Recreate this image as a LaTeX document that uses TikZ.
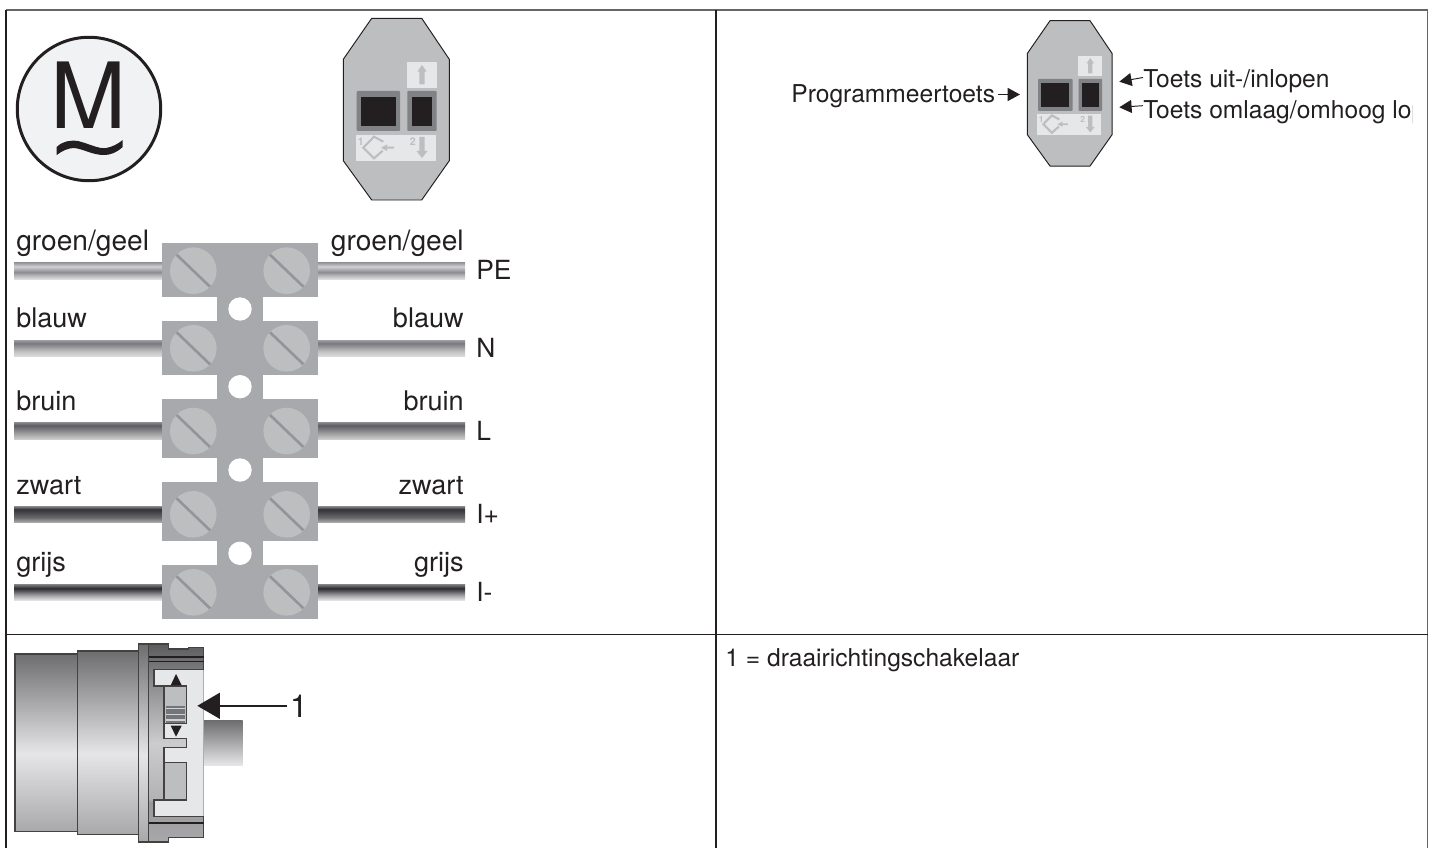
\documentclass[tikz,border=0pt]{standalone}
\usepackage{fontspec}
\setmainfont{TeX Gyre Heros}
\usetikzlibrary{arrows.meta}
\definecolor{ink}{HTML}{231F20}
\definecolor{boxgray}{HTML}{BCBEC0}
\definecolor{termgray}{HTML}{A7A9AC}
\definecolor{slotgray}{HTML}{939598}
\definecolor{panelgray}{HTML}{E6E7E8}
\definecolor{btngray}{HTML}{808285}
\definecolor{motorfill}{HTML}{F1F2F4}
\definecolor{edgegray}{HTML}{666666}
\pgfdeclareverticalshading{wirePE}{100bp}{rgb(0bp)=(.9,.9,.9); rgb(25bp)=(.88,.88,.88); rgb(37bp)=(.7,.7,.71); rgb(46bp)=(.55,.55,.57); rgb(62bp)=(.82,.82,.83); rgb(75bp)=(.55,.55,.57); rgb(100bp)=(.55,.55,.57)}
\pgfdeclareverticalshading{wireN}{100bp}{rgb(0bp)=(.88,.88,.88); rgb(25bp)=(.86,.86,.86); rgb(40bp)=(.76,.76,.77); rgb(65bp)=(.47,.47,.49); rgb(75bp)=(.62,.62,.64); rgb(100bp)=(.62,.62,.64)}
\pgfdeclareverticalshading{wireL}{100bp}{rgb(0bp)=(.8,.8,.8); rgb(25bp)=(.8,.8,.8); rgb(40bp)=(.64,.64,.65); rgb(65bp)=(.36,.36,.38); rgb(75bp)=(.55,.55,.57); rgb(100bp)=(.55,.55,.57)}
\pgfdeclareverticalshading{wireB}{100bp}{rgb(0bp)=(.7,.7,.7); rgb(25bp)=(.7,.7,.7); rgb(40bp)=(.42,.42,.43); rgb(65bp)=(.2,.2,.21); rgb(75bp)=(.55,.55,.56); rgb(100bp)=(.55,.55,.56)}
\pgfdeclareverticalshading{wireG}{100bp}{rgb(0bp)=(.92,.92,.92); rgb(25bp)=(.92,.92,.92); rgb(42bp)=(.62,.62,.63); rgb(62bp)=(.17,.17,.18); rgb(75bp)=(.52,.52,.53); rgb(100bp)=(.52,.52,.53)}
\pgfdeclareverticalshading{motorbody}{100bp}{rgb(0bp)=(.66,.66,.67); rgb(25bp)=(.66,.66,.67); rgb(47bp)=(.9,.9,.91); rgb(75bp)=(.43,.43,.44); rgb(100bp)=(.43,.43,.44)}
\pgfdeclareverticalshading{collar}{100bp}{rgb(0bp)=(.66,.66,.67); rgb(25bp)=(.66,.66,.67); rgb(35bp)=(.6,.6,.61); rgb(36bp)=(.7,.7,.71); rgb(50bp)=(.8,.8,.81); rgb(65bp)=(.55,.55,.56); rgb(75bp)=(.36,.36,.37); rgb(100bp)=(.36,.36,.37)}
\pgfdeclareverticalshading{shaft}{100bp}{rgb(0bp)=(.9,.9,.91); rgb(25bp)=(.9,.9,.91); rgb(75bp)=(.43,.43,.44); rgb(100bp)=(.43,.43,.44)}
\tikzset{
  x=.02cm, y=-.02cm,
  frameline/.style={line width=.85pt, draw=ink},
  outerline/.style={line width=1pt, draw=edgegray},
  widelabel/.style={font=\fontsize{16}{18}\selectfont, text=ink, inner sep=0pt},
  biglabel/.style={font=\fontsize{15.4}{18}\selectfont, text=ink, inner sep=0pt},
  termlabel/.style={font=\fontsize{15}{18}\selectfont, text=ink, inner sep=0pt},
  midlabel/.style={font=\fontsize{14}{16}\selectfont, text=ink, inner sep=0pt},
  tinylabel/.style={font=\bfseries\fontsize{6}{7}\selectfont, text=boxgray, inner sep=0pt, transform shape},
  ptr/.style={line width=.55pt, draw=ink, -{Triangle[length=7pt,width=7.4pt]}},
  screwhead/.style={fill=boxgray, draw=none},
  slotline/.style={draw=slotgray, line width=1.5pt},
  panelarrow/.style={fill=boxgray, draw=none},
  motorline/.style={draw=ink!85, line width=.75pt},
}
\newcommand{\ctrlbox}[1]{%
  \fill[boxgray] (371.7,18.3) -- (421.7,18.3) -- (449.3,59.3) -- (449.3,160.7) -- (421.7,200) -- (371.7,200) -- (343.3,160.7) -- (343.3,59.3) -- cycle;
  \draw[ink, line width=.55pt, line join=round] (371.7,18.3) -- (421.7,18.3) -- (449.3,59.3) -- (449.3,160.7) -- (421.7,200) -- (371.7,200) -- (343.3,160.7) -- (343.3,59.3) -- cycle;
  \fill[panelgray] (407,62) rectangle (437,88);
  \fill[panelarrow] (422,65) -- (426.7,71.7) -- (424.7,71.7) -- (424.7,84.3) -- (419.3,84.3) -- (419.3,71.7) -- (417.3,71.7) -- cycle;
  \fill[btngray, rounded corners=.5pt] (356.7,91) rectangle (400,131);
  \fill[ink] (361,96.7) rectangle (395.7,126);
  \fill[btngray, rounded corners=.5pt] (407.3,91) rectangle (436.7,131);
  \fill[ink] (411.7,96.7) rectangle (432.3,126);
  \fill[panelgray] (356,135) rectangle (436,161);
  \node[tinylabel] (#1one) at (360.7,141.5) {1};
  \node[tinylabel] (#1two) at (412.7,141.5) {2};
  \draw[boxgray, line width=1.2pt] (383.3,141.7) -- (374,136.7) -- (363.3,147.7) -- (374,158.3) -- (382.7,150.7);
  \fill[panelarrow] (381,147.7) -- (387,144.5) -- (387,146.7) -- (394,146.7) -- (394,148.7) -- (387,148.7) -- (387,151) -- cycle;
  \fill[panelarrow] (422,158) -- (427.5,151) -- (424.7,151) -- (424.7,137) -- (419.3,137) -- (419.3,151) -- (416.5,151) -- cycle;
}
\newcommand{\wirepair}[3]{%
  \shade[shading=#3] (14,#1) rectangle (163,#2);
  \shade[shading=#3] (317,#1) rectangle (465,#2);
}
\newcommand{\termblock}[3]{%
  \fill[termgray] (162,#1) rectangle (318,#2);
  \fill[screwhead] (193.3,#3) circle[radius=23.3];
  \fill[screwhead] (286.7,#3) circle[radius=23.3];
  \draw[slotline] (176.6,#3-16) -- (210,#3+16);
  \draw[slotline] (270,#3-16) -- (303.4,#3+16);
}
\begin{document}
\begin{tikzpicture}
\useasboundingbox (0,0) rectangle (1434,848);
% frame
\draw[outerline] (6,10) -- (1427.5,10) -- (1427.5,848);
\draw[frameline] (6,10) -- (6,848);
\draw[frameline] (716,10) -- (716,848);
\draw[frameline] (6,634.5) -- (1427.5,634.5);

% motor symbol
\node[circle, draw=ink, fill=motorfill, line width=1.7pt, inner sep=0pt, minimum size=2.87cm] (motor) at (89,109) {};
\node[font=\fontsize{52}{52}\selectfont, text=ink, inner sep=0pt, anchor=base] (mletter) at (89,129) {M};
\fill[ink] (56.7,147) .. controls (63,141) and (70,140) .. (78,141) .. controls (90,144) and (98,149) .. (106,148) .. controls (112,147) and (118,144) .. (122.7,140) -- (122.7,147) .. controls (116,153) and (110,155) .. (104,155) .. controls (92,155) and (84,149) .. (74,148) .. controls (68,148) and (62,151) .. (56.7,155) -- cycle;

% control box, left
\ctrlbox{a}

% terminal strip
\fill[termgray] (216.7,290) rectangle (263,570);
\wirepair{262}{279.3}{wirePE}
\wirepair{340}{356.3}{wireN}
\wirepair{422}{439}{wireL}
\wirepair{506}{522.7}{wireB}
\wirepair{584}{600.7}{wireG}
\termblock{243.3}{297.3}{270.7}
\termblock{321}{375}{348.3}
\termblock{399}{458.3}{431}
\termblock{482}{541.3}{514.3}
\termblock{565}{619.3}{592.3}
\foreach \hy in {309,386.7,470,553.3} \fill[white] (240,\hy) circle[radius=11.7];

\node[widelabel, anchor=base west] (lpe) at (16,250) {groen/geel};
\node[widelabel, anchor=base east] (rpe) at (464,250) {groen/geel};
\node[biglabel, anchor=base west] (ln) at (16,327.3) {blauw};
\node[biglabel, anchor=base east] (rn) at (464,327.3) {blauw};
\node[biglabel, anchor=base west] (ll) at (16,410) {bruin};
\node[biglabel, anchor=base east] (rl) at (464,410) {bruin};
\node[biglabel, anchor=base west] (lb) at (16,494) {zwart};
\node[biglabel, anchor=base east] (rb) at (464,494) {zwart};
\node[biglabel, anchor=base west] (lg) at (16,571.7) {grijs};
\node[biglabel, anchor=base east] (rg) at (464,571.7) {grijs};
\node[termlabel, anchor=base west] (tpe) at (476,279.3) {PE};
\node[termlabel, anchor=base west] (tn) at (476,357.3) {N};
\node[termlabel, anchor=base west] (tl) at (476,440) {L};
\node[termlabel, anchor=base west] (tip) at (476,523.3) {I+};
\node[termlabel, anchor=base west] (tim) at (476,601.3) {I-};

% control box, right
\begin{scope}[shift={(752.66,6.06)}, scale=.8]
  \ctrlbox{b}
\end{scope}
\node[midlabel, anchor=base west] (prog) at (791,102.7) {Programmeertoets};
\node[midlabel, anchor=base west] (tout) at (1143,87.3) {Toets uit-/inlopen};
\begin{scope}
  \clip (1100,100) rectangle (1412,130);
  \node[midlabel, anchor=base west] (tdown) at (1143,118.3) {Toets omlaag/omhoog lop};
\end{scope}
\coordinate (ptip) at (1020,94.5);
\coordinate (otip) at (1119.3,81.7);
\coordinate (dtip) at (1119.3,107.3);
\draw[ptr] ([xshift=1.6pt]prog.east |- ptip) -- (ptip);
\draw[ptr] ([yshift=2pt]tout.west) -- (otip);
\draw[ptr] ([yshift=3.6pt]tdown.west) -- (dtip);

% lower left: motor side view
\shade[shading=motorbody, draw=ink!85, line width=.75pt] (15,654) rectangle (77.3,831.7);
\shade[shading=motorbody, draw=ink!85, line width=.75pt] (77.3,651) rectangle (138.3,834.3);
\shade[shading=shaft] (204,720.7) rectangle (242.7,765);
\shade[shading=motorbody, draw=ink!85, line width=.75pt] (138.3,644) rectangle (148.7,842);
\shade[shading=collar, draw=ink!85, line width=.75pt] (148.7,644) -- (168.3,644) -- (168.3,649) -- (188.3,649) -- (188.3,647.7) -- (203.7,647.7) -- (203.7,837.3) -- (168.3,837.3) -- (168.3,842) -- (148.7,842) -- cycle;
\draw[ink, line width=1.1pt] (148.7,656.7) -- (203.7,656.7);
\draw[ink, line width=.9pt] (148.7,661.7) -- (203.7,661.7);
\draw[ink, line width=1.1pt] (148.7,823.3) -- (203.7,823.3);
\fill[panelgray] (154,669.3) -- (203.7,669.3) -- (203.7,816.7) -- (154,816.7) -- (154,800) -- (164,800) -- (164,747.3) -- (186.7,747.3) -- (186.7,738.7) -- (164,738.7) -- (164,686) -- (154,686) -- cycle;
\draw[motorline] (203.7,669.3) -- (154,669.3) -- (154,686) -- (164,686) -- (164,738.7) -- (186.7,738.7) -- (186.7,747.3) -- (164,747.3) -- (164,800) -- (154,800) -- (154,816.7) -- (203.7,816.7);
% switch
\fill[boxgray, draw=ink!85, line width=.75pt] (164,686) rectangle (186.7,723.3);
\fill[btngray!90!black] (165.5,706) rectangle (185.2,723);
\foreach \sy in {708.5,714.2,720} \draw[boxgray!70!white, line width=.8pt] (165.5,\sy) -- (185.2,\sy);
\fill[boxgray, draw=ink!85, line width=.75pt] (164,762.7) rectangle (186.7,800);
\fill[ink] (176,674) -- (181.7,685.3) -- (170.7,685.3) -- cycle;
\fill[ink] (176,736.7) -- (181.7,725.7) -- (170.7,725.7) -- cycle;
\node[font=\fontsize{18}{18}\selectfont, text=ink, inner sep=0pt, anchor=base] (swlabel) at (299,717.3) {1};
\coordinate (swtip) at (197.3,705.8);
\draw[ink, line width=1.3pt, -{Triangle[length=12.9pt,width=14.7pt]}] (swlabel.west |- swtip) ++(-3,0) -- (swtip);

% lower right text
\node[midlabel, anchor=base west] (legend) at (725,666.7) {1 = draairichtingschakelaar};
\end{tikzpicture}
\end{document}
